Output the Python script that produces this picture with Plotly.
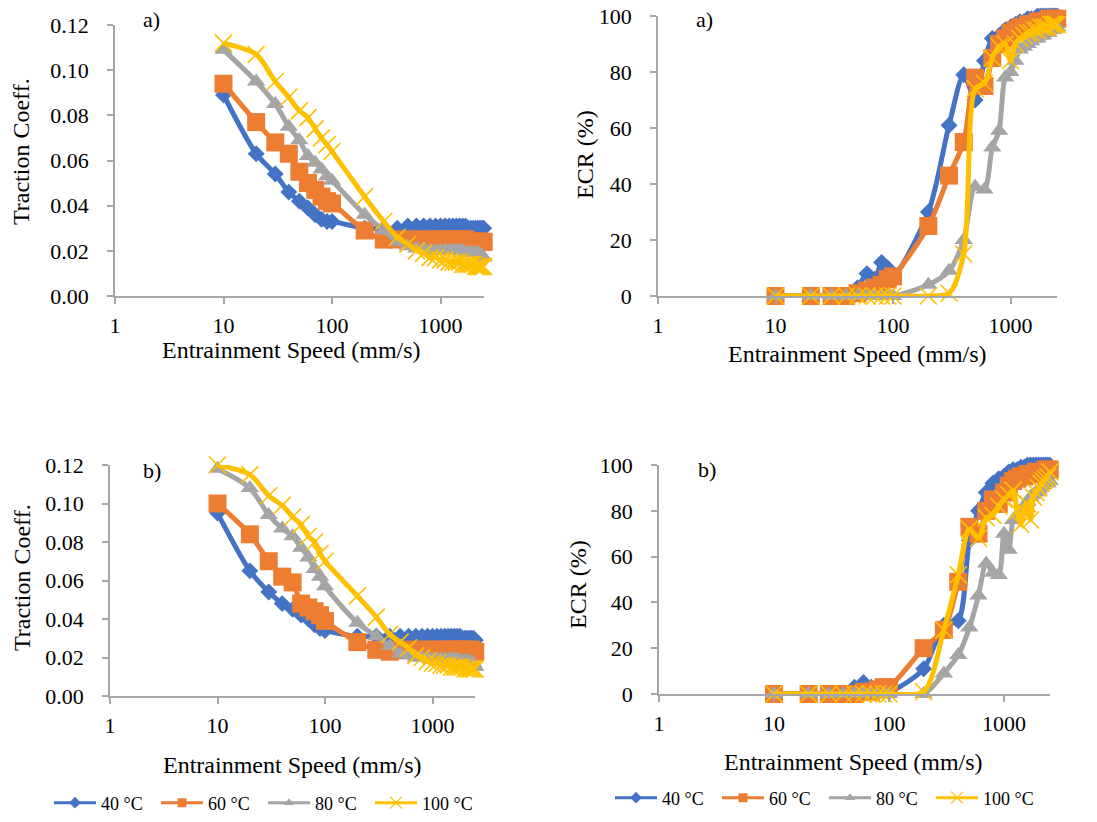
import math
import plotly.graph_objects as go

W, H = 1097, 822

# ---------------- data ----------------
speed = [10, 20, 30, 40, 50, 60, 70, 80, 90, 100,
         200, 300, 400, 500, 600, 700, 800, 900,
         1000, 1100, 1200, 1300, 1400, 1500, 1600, 1700,
         1800, 1900, 2000, 2100, 2200, 2300, 2400, 2500]

series_names = ["40 °C", "60 °C", "80 °C", "100 °C"]

# a) traction coefficient
tc_a_40 = [0.089, 0.063, 0.054, 0.046, 0.042, 0.039, 0.036, 0.034, 0.033, 0.033,
           0.030, 0.030, 0.030, 0.031, 0.031, 0.031, 0.031, 0.031,
           0.031, 0.031, 0.031, 0.031, 0.031, 0.031, 0.031, 0.031,
           0.030, 0.030, 0.030, 0.030, 0.030, 0.030, 0.030, 0.030]
tc_a_60 = [0.094, 0.077, 0.068, 0.063, 0.055, 0.050, 0.047, 0.044, 0.042, 0.041,
           0.029, 0.025, 0.025, 0.025, 0.025, 0.025, 0.025, 0.025,
           0.025, 0.025, 0.025, 0.025, 0.025, 0.025, 0.025, 0.025,
           0.024, 0.024, 0.024, 0.024, 0.024, 0.024, 0.024, 0.024]
tc_a_80 = [0.109, 0.095, 0.085, 0.075, 0.069, 0.062, 0.059, 0.056, 0.053, 0.051,
           0.036, 0.029, 0.024, 0.022, 0.021, 0.021, 0.020, 0.020,
           0.020, 0.020, 0.020, 0.020, 0.020, 0.020, 0.020, 0.019,
           0.019, 0.019, 0.019, 0.019, 0.019, 0.018, 0.018, 0.017]
tc_a_100 = [0.112, 0.107, 0.095, 0.088, 0.082, 0.079, 0.074, 0.070, 0.067, 0.064,
            0.044, 0.033, 0.026, 0.023, 0.020, 0.019, 0.017, 0.017,
            0.016, 0.016, 0.015, 0.015, 0.015, 0.015, 0.014, 0.014,
            0.014, 0.014, 0.014, 0.013, 0.013, 0.013, 0.013, 0.013]

# a) ECR (%)
ecr_a_40 = [0, 0, 0, 0, 3, 8, 6, 12, 10, 7,
            30, 61, 79, 70, 84, 92, 93, 95,
            96, 97, 98, 98, 99, 99, 99, 100,
            100, 100, 100, 100, 100, 100, 100, 100]
ecr_a_60 = [0, 0, 0, 0, 1, 2, 3, 4, 6, 7,
            25, 43, 55, 78, 75, 85, 90, 92,
            94, 95, 96, 96, 97, 97, 97, 98,
            98, 98, 98, 99, 99, 99, 99, 99]
ecr_a_80 = [0, 0, 0, 0, 0, 0, 0, 0, 0, 0,
            4, 9, 20, 39, 38, 53, 59, 78,
            80, 84, 88, 89, 90, 91, 92, 92,
            93, 93, 94, 94, 95, 95, 96, 96]
ecr_a_100 = [0, 0, 0, 0, 0, 0, 0, 0, 0, 0,
             0, 1, 15, 74, 76, 85, 89, 90,
             84, 90, 92, 93, 94, 94, 95, 95,
             96, 96, 96, 96, 97, 97, 97, 97]

# b) traction coefficient
tc_b_40 = [0.095, 0.065, 0.054, 0.048, 0.045, 0.042, 0.040, 0.037, 0.035, 0.034,
           0.031, 0.031, 0.031, 0.031, 0.031, 0.031, 0.031, 0.031,
           0.031, 0.031, 0.031, 0.031, 0.031, 0.031, 0.031, 0.031,
           0.031, 0.030, 0.030, 0.030, 0.030, 0.030, 0.030, 0.029]
tc_b_60 = [0.100, 0.084, 0.070, 0.062, 0.059, 0.048, 0.046, 0.044, 0.042, 0.039,
           0.028, 0.024, 0.023, 0.024, 0.024, 0.024, 0.024, 0.024,
           0.024, 0.024, 0.024, 0.024, 0.024, 0.024, 0.024, 0.024,
           0.024, 0.024, 0.024, 0.024, 0.024, 0.024, 0.023, 0.023]
tc_b_80 = [0.118, 0.108, 0.094, 0.087, 0.083, 0.077, 0.072, 0.066, 0.062, 0.057,
           0.038, 0.031, 0.026, 0.022, 0.021, 0.020, 0.020, 0.020,
           0.019, 0.019, 0.019, 0.019, 0.019, 0.019, 0.019, 0.019,
           0.018, 0.018, 0.018, 0.018, 0.018, 0.017, 0.017, 0.015]
tc_b_100 = [0.120, 0.115, 0.104, 0.099, 0.093, 0.089, 0.083, 0.080, 0.074, 0.070,
            0.052, 0.041, 0.032, 0.028, 0.025, 0.021, 0.020, 0.018,
            0.017, 0.017, 0.016, 0.016, 0.016, 0.015, 0.015, 0.015,
            0.015, 0.015, 0.014, 0.014, 0.014, 0.014, 0.014, 0.014]

# b) ECR (%)
ecr_b_40 = [0, 0, 0, 0, 3, 5, 3, 2, 2, 1,
            11, 30, 32, 67, 80, 88, 92, 94,
            95, 97, 98, 98, 99, 99, 100, 100,
            100, 100, 100, 100, 100, 100, 100, 100]
ecr_b_60 = [0, 0, 0, 0, 0, 1, 1, 2, 3, 3,
            20, 28, 49, 73, 70, 80, 85, 83,
            88, 91, 93, 94, 95, 95, 96, 96,
            96, 97, 97, 97, 97, 98, 98, 98]
ecr_b_80 = [0, 0, 0, 0, 0, 0, 0, 0, 0, 0,
            0, 9, 17, 29, 43, 57, 53, 52,
            70, 63, 76, 78, 80, 82, 84, 86,
            87, 88, 89, 90, 91, 92, 92, 93]
ecr_b_100 = [0, 0, 0, 0, 0, 0, 0, 0, 0, 0,
             1, 28, 52, 72, 68, 77, 78, 82,
             85, 87, 89, 80, 74, 80, 83, 76,
             86, 88, 90, 92, 93, 94, 95, 97]

x_tickvals = [1, 10, 100, 1000]
x_ticktext = ["1", "10", "100", "1000"]
tc_ticks = [0, 0.02, 0.04, 0.06, 0.08, 0.10, 0.12]
ecr_ticks = [0, 20, 40, 60, 80, 100]

# ---------------- styling ----------------
FONT = "Liberation Serif"
AXIS_GREY = "#a6a6a6"
colors = ["#4472C4", "#ED7D31", "#A5A5A5", "#FFC000"]
symbols = ["diamond", "square", "triangle-up", "x-thin"]
msizes = [13, 18, 16, 17]

def px_x(p):
    return p / W

def px_y(p):
    return 1 - p / H

XMAX = math.log10(2500)

# panel geometry in pixels: (x_left, decade_px, y_bottom, y_top)
panels = {
    1: dict(xl=115, dec=108.5, yb=296, yt=25),
    2: dict(xl=658, dec=117.5, yb=296, yt=16),
    3: dict(xl=110, dec=107.5, yb=696, yt=465),
    4: dict(xl=659, dec=115.0, yb=694, yt=465),
}

fig = go.Figure()

datasets = {
    1: [tc_a_40, tc_a_60, tc_a_80, tc_a_100],
    2: [ecr_a_40, ecr_a_60, ecr_a_80, ecr_a_100],
    3: [tc_b_40, tc_b_60, tc_b_80, tc_b_100],
    4: [ecr_b_40, ecr_b_60, ecr_b_80, ecr_b_100],
}

for k, sets in datasets.items():
    xa = "x" if k == 1 else f"x{k}"
    ya = "y" if k == 1 else f"y{k}"
    for i, vals in enumerate(sets):
        mk = dict(symbol=symbols[i], size=msizes[i], color=colors[i])
        if symbols[i] == "x-thin":
            mk["line"] = dict(color=colors[i], width=1.6)
        fig.add_trace(go.Scatter(
            x=speed, y=vals, mode="lines+markers", name=series_names[i],
            line=dict(color=colors[i], width=5, shape="spline", smoothing=0.8),
            marker=mk, xaxis=xa, yaxis=ya, showlegend=False, cliponaxis=False,
        ))

# legend entries (small symbols as in the original legends)
for k, lg in [(3, "legend"), (4, "legend2")]:
    for i in range(4):
        mk = dict(symbol=symbols[i], size=9 if i != 3 else 12, color=colors[i])
        if symbols[i] == "x-thin":
            mk["line"] = dict(color=colors[i], width=1.2)
        fig.add_trace(go.Scatter(
            x=[None], y=[None], mode="lines+markers", name=series_names[i],
            line=dict(color=colors[i], width=3), marker=mk,
            xaxis=f"x{k}", yaxis=f"y{k}", legend=lg, showlegend=True,
        ))

layout = dict(
    width=W, height=H, margin=dict(l=0, r=0, t=0, b=0, autoexpand=False),
    paper_bgcolor="white", plot_bgcolor="white",
    font=dict(family=FONT, size=22, color="black"),
)

for k, p in panels.items():
    xr = p["xl"] + XMAX * p["dec"]
    xdom = [px_x(p["xl"]), px_x(xr)]
    ydom = [px_y(p["yb"]), px_y(p["yt"])]
    xname = "xaxis" if k == 1 else f"xaxis{k}"
    yname = "yaxis" if k == 1 else f"yaxis{k}"
    yid = "y" if k == 1 else f"y{k}"
    xid = "x" if k == 1 else f"x{k}"
    is_tc = k in (1, 3)
    layout[xname] = dict(
        type="log", range=[0, XMAX], domain=xdom, anchor=yid,
        tickvals=x_tickvals, ticktext=x_ticktext, ticks="outside", ticklen=6,
        tickcolor=AXIS_GREY, tickwidth=1.5, showline=True, linecolor=AXIS_GREY,
        linewidth=1.5, showgrid=False, zeroline=False, automargin=False,
        ticklabelstandoff=3, tickfont=dict(family=FONT, size=22, color="black"),
    )
    layout[yname] = dict(
        range=[0, 0.12] if is_tc else [0, 100], domain=ydom, anchor=xid,
        tickvals=tc_ticks if is_tc else ecr_ticks,
        tickformat=".2f" if is_tc else "d",
        ticks="outside", ticklen=6, tickcolor=AXIS_GREY, tickwidth=1.5,
        showline=True, linecolor=AXIS_GREY, linewidth=1.5, showgrid=False,
        zeroline=False, ticklabelstandoff=14, automargin=False,
        tickfont=dict(family=FONT, size=22, color="black"),
    )
    # overlay axes that draw the inner half of the crossing tick marks
    layout[f"xaxis{k + 4}"] = dict(
        type="log", range=[0, XMAX], overlaying=xid, anchor=yid,
        tickvals=x_tickvals, ticks="inside", ticklen=6, tickcolor=AXIS_GREY,
        tickwidth=1.5, showticklabels=False, showline=False, showgrid=False,
        zeroline=False,
    )
    layout[f"yaxis{k + 4}"] = dict(
        range=[0, 0.12] if is_tc else [0, 100], overlaying=yid, anchor=xid,
        tickvals=tc_ticks if is_tc else ecr_ticks, ticks="inside", ticklen=6,
        tickcolor=AXIS_GREY, tickwidth=1.5, showticklabels=False,
        showline=False, showgrid=False, zeroline=False,
    )

legend_common = dict(
    orientation="h", font=dict(family=FONT, size=18, color="black"),
    itemwidth=42, entrywidth=50, entrywidthmode="pixels",
    bgcolor="rgba(0,0,0,0)", xanchor="left", yanchor="middle",
    itemclick=False, itemdoubleclick=False, tracegroupgap=0,
)
layout["legend"] = dict(legend_common, x=px_x(49), y=px_y(803))
layout["legend2"] = dict(legend_common, x=px_x(610), y=px_y(798))

fig.update_layout(**layout)

# axis titles and panel labels
ann = []
def add_text(txt, x, y, angle=0, size=24):
    ann.append(dict(text=txt, x=px_x(x), y=px_y(y), xref="paper", yref="paper",
                    showarrow=False, xanchor="center", yanchor="middle",
                    textangle=angle, font=dict(family=FONT, size=size, color="black")))

add_text("Entrainment Speed (mm/s)", 291, 350)
add_text("Entrainment Speed (mm/s)", 857, 354)
add_text("Entrainment Speed (mm/s)", 292, 765)
add_text("Entrainment Speed (mm/s)", 854, 762)
add_text("Traction Coeff.", 21, 152, -90)
add_text("ECR (%)", 585, 155, -90)
add_text("Traction Coeff.", 22, 578, -90)
add_text("ECR (%)", 578, 585, -90)
add_text("a)", 151, 20, size=22)
add_text("a)", 705, 20, size=22)
add_text("b)", 152, 470, size=22)
add_text("b)", 707, 469, size=22)
fig.update_layout(annotations=ann)

fig.write_html("out.html")
